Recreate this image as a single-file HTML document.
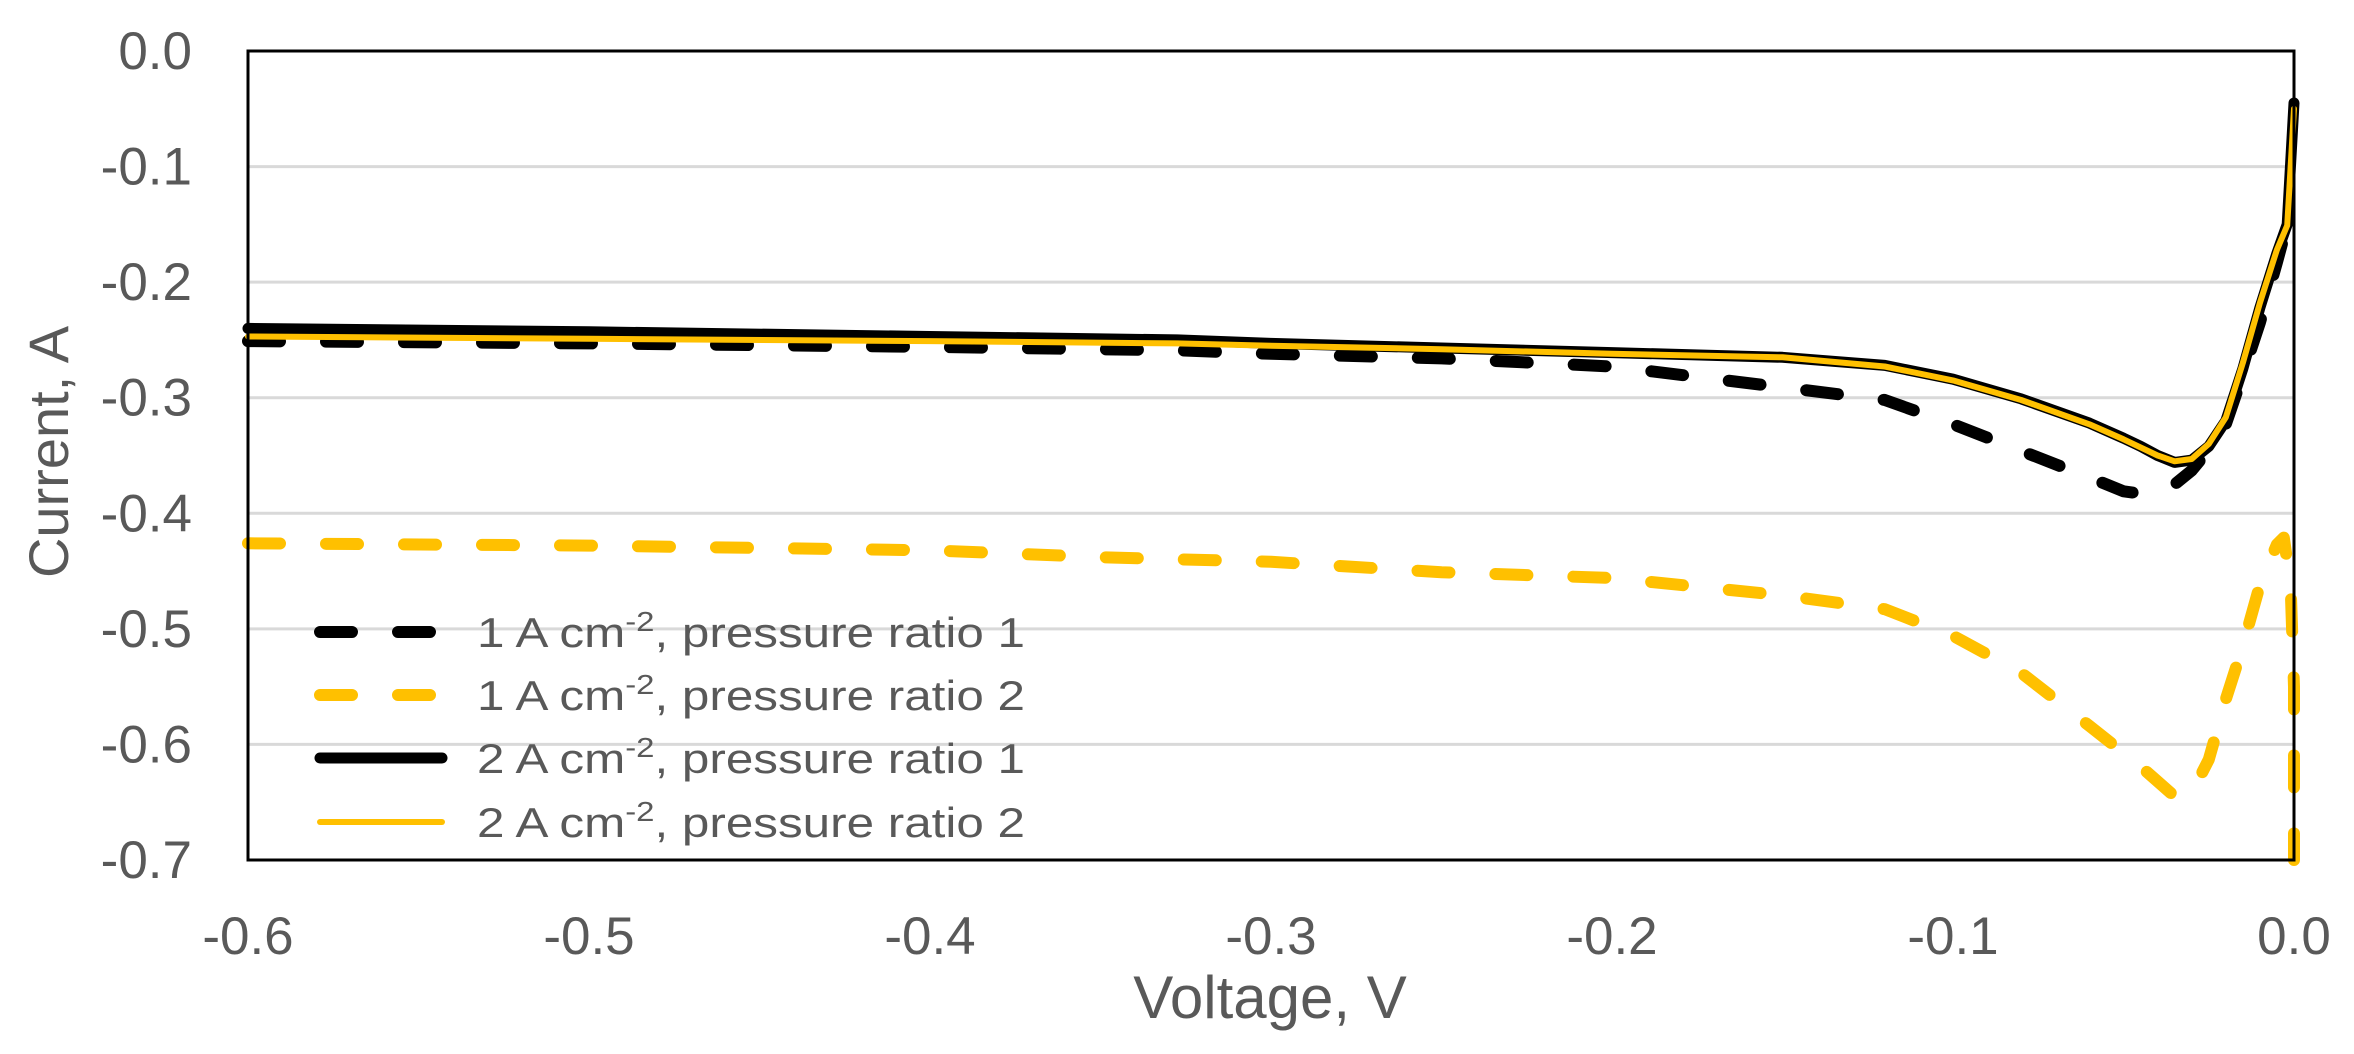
<!DOCTYPE html>
<html><head><meta charset="utf-8"><style>
html,body{margin:0;padding:0;background:#fff;}
svg{display:block;}
text{font-family:"Liberation Sans",sans-serif;fill:#595959;}
</style></head><body>
<svg id="chart" width="2354" height="1054" viewBox="0 0 2354 1054" xmlns="http://www.w3.org/2000/svg">
<g id="grid"></g>
<g id="series"></g>
<rect x="248" y="51" width="2046" height="809" fill="none" stroke="#000" stroke-width="3"/>
<g id="yticks"></g>
<g id="xticks"></g>
<text x="1270" y="1018" font-size="60" text-anchor="middle">Voltage, V</text>
<text transform="translate(68,452) rotate(-90)" font-size="56" text-anchor="middle">Current, A</text>
<g id="legend"></g>
</svg>
<script>
const voltsA = [-0.6,-0.5,-0.4,-0.3275,-0.3,-0.25,-0.2,-0.15,-0.12,-0.1,-0.08,-0.06,-0.05,-0.045,-0.04,-0.035,-0.03,-0.025,-0.02,-0.015,-0.01,-0.005,-0.002,0];
const dashed1 = [-0.251,-0.253,-0.256,-0.259,-0.262,-0.266,-0.273,-0.291,-0.302,-0.323,-0.346,-0.369,-0.381,-0.383,-0.381,-0.375,-0.363,-0.345,-0.323,-0.28,-0.235,-0.183,-0.15,-0.13];
const solid1 = [-0.240,-0.243,-0.247,-0.250,-0.253,-0.257,-0.261,-0.265,-0.272,-0.284,-0.301,-0.322,-0.335,-0.342,-0.350,-0.356,-0.354,-0.342,-0.320,-0.275,-0.222,-0.175,-0.150,-0.045];
const solid2 = [-0.247,-0.249,-0.251,-0.253,-0.255,-0.258,-0.262,-0.265,-0.273,-0.285,-0.302,-0.323,-0.336,-0.343,-0.350,-0.355,-0.353,-0.340,-0.317,-0.270,-0.218,-0.172,-0.151,-0.05];
const voltsB = [-0.6,-0.5,-0.4,-0.35,-0.3,-0.25,-0.2,-0.15,-0.12,-0.1,-0.08,-0.06,-0.045,-0.035,-0.03,-0.025,-0.02,-0.015,-0.01,-0.005,-0.003,-0.001,0,0];
const dashed2 = [-0.426,-0.428,-0.432,-0.438,-0.442,-0.451,-0.456,-0.471,-0.483,-0.506,-0.538,-0.584,-0.619,-0.645,-0.642,-0.613,-0.561,-0.515,-0.462,-0.427,-0.421,-0.462,-0.55,-0.70];
const yTicks = ["0.0","-0.1","-0.2","-0.3","-0.4","-0.5","-0.6","-0.7"];
const yTickVals = [0,-0.1,-0.2,-0.3,-0.4,-0.5,-0.6,-0.7];
const xTicks = ["-0.6","-0.5","-0.4","-0.3","-0.2","-0.1","0.0"];
const xTickVals = [-0.6,-0.5,-0.4,-0.3,-0.2,-0.1,0];
const legendLabels = ["1 A cm","1 A cm","2 A cm","2 A cm"];
const legendRatio = ["1","2","1","2"];

const NS="http://www.w3.org/2000/svg";
const X=v=>248+(v+0.6)/0.6*2046;
const Y=v=>51+(-v)/0.7*809;
function mk(tag,attrs,parent){const e=document.createElementNS(NS,tag);for(const k in attrs)e.setAttribute(k,attrs[k]);parent.appendChild(e);return e;}
const grid=document.getElementById('grid');
yTickVals.forEach((v,i)=>{
  if(i>0&&i<7){const l=mk('line',{x1:248,x2:2294,y1:Y(v),y2:Y(v),stroke:'#d9d9d9','stroke-width':3},grid);
  
  }
  const t=mk('text',{x:192,y:Y(v)+18,'font-size':53,'text-anchor':'end'},document.getElementById('yticks'));
  t.textContent=yTicks[i];
  
  
});
xTickVals.forEach((v,i)=>{
  const t=mk('text',{x:X(v),y:954,'font-size':53,'text-anchor':'middle'},document.getElementById('xticks'));
  t.textContent=xTicks[i];
  
  
});
const sg=document.getElementById('series');
function path(xs,ys){return xs.map((x,i)=>(i?'L':'M')+X(x).toFixed(1)+','+Y(ys[i]).toFixed(1)).join(' ');}
const specs=[
 {xs:voltsB,ys:dashed2,c:'#FFC000',w:12,d:'32 46',n:'series-1a-ratio2'},
 {xs:voltsA,ys:dashed1,c:'#000',w:12,d:'32 46',n:'series-1a-ratio1'},
 {xs:voltsA,ys:solid1,c:'#000',w:11,d:'',n:'series-2a-ratio1'},
 {xs:voltsA,ys:solid2,c:'#FFC000',w:6,d:'',n:'series-2a-ratio2'}];
specs.forEach(s=>{
  const p=mk('path',{d:path(s.xs,s.ys),fill:'none',stroke:s.c,'stroke-width':s.w,'stroke-linecap':'round','stroke-linejoin':'round'},sg);
  if(s.d)p.setAttribute('stroke-dasharray',s.d);
  
  
});
const lg=document.getElementById('legend');
const lspec=[{c:'#000',w:12,d:'32 46'},{c:'#FFC000',w:12,d:'32 46'},{c:'#000',w:11,d:''},{c:'#FFC000',w:6,d:''}];
const rows=[632,695,758,822];
lspec.forEach((s,i)=>{
  const l=mk('line',{x1:320,x2:442,y1:rows[i],y2:rows[i],stroke:s.c,'stroke-width':s.w,'stroke-linecap':'round'},lg);
  if(s.d)l.setAttribute('stroke-dasharray',s.d);
  
  
  const t=mk('text',{x:477,y:rows[i]+15,'font-size':42,textLength:548,lengthAdjust:'spacingAndGlyphs'},lg);
  
  
  t.innerHTML=legendLabels[i]+'<tspan dy="-16" font-size="28">-2</tspan><tspan dy="16">, pressure ratio '+legendRatio[i]+'</tspan>';
});
</script>
</body></html>
